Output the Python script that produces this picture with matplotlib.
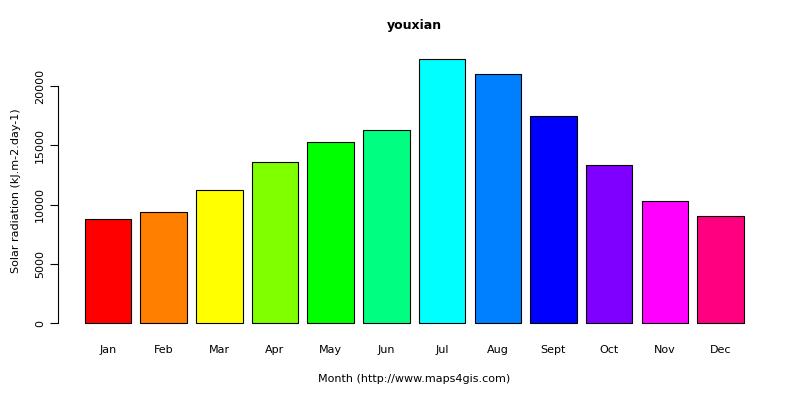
import matplotlib.pyplot as plt

months = ["Jan", "Feb", "Mar", "Apr", "May", "Jun", "Jul", "Aug", "Sept", "Oct", "Nov", "Dec"]
radiation = [8780, 9370, 11220, 13590, 15270, 16290, 22280, 21010, 17470, 13330, 10300, 9030]
colors = ["#FF0000", "#FF8000", "#FFFF00", "#80FF00", "#00FF00", "#00FF80",
          "#00FFFF", "#0080FF", "#0000FF", "#8000FF", "#FF00FF", "#FF0080"]

fig = plt.figure(figsize=(8, 4), dpi=100)
ax = fig.add_axes([0.073, 0.166, 0.8895, 0.713])

x = [0.7 + 1.2 * i for i in range(len(months))]
ax.bar(x, radiation, width=1.0, color=colors, edgecolor="black", linewidth=0.8)

ax.set_xlim(-0.368, 14.968)
top = max(radiation)
ax.set_ylim(-0.04 * top, 1.04 * top)

for s in ["top", "right", "bottom"]:
    ax.spines[s].set_visible(False)
ax.spines["left"].set_bounds(0, 20000)
ax.set_yticks([0, 5000, 10000, 15000, 20000])
ax.set_yticklabels(["0", "5000", "10000", "15000", "20000"], rotation=90, va="center", fontsize=8)
ax.tick_params(axis="y", length=6)
ax.set_xticks(x)
ax.set_xticklabels(months, fontsize=8)
ax.tick_params(axis="x", length=0, pad=8)

ax.set_title("youxian", fontsize=9, fontweight="bold", pad=14)
ax.set_xlabel("Month (http://www.maps4gis.com)", fontsize=8, labelpad=14)
ax.set_ylabel("Solar radiation (kJ.m-2.day-1)", fontsize=8, labelpad=10)

fig.savefig("out.png", dpi=100)
